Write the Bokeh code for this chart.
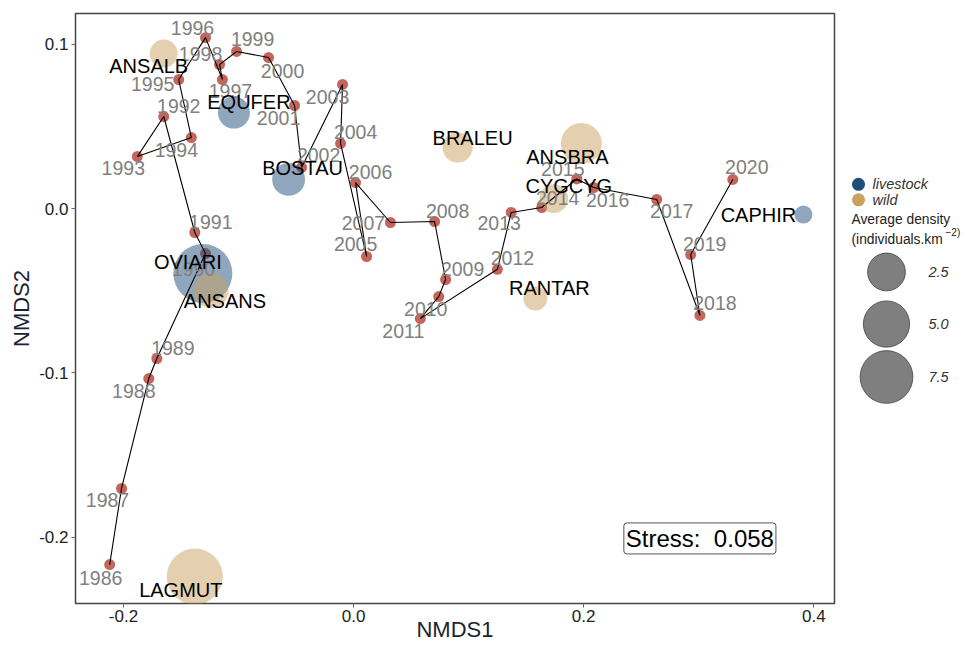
import math
from bokeh.plotting import figure
from bokeh.models import Range1d, ColumnDataSource, Label, FixedTicker
from bokeh.layouts import row
from bokeh.core.properties import value
from bokeh.embed import file_html
from bokeh.resources import INLINE

# ---------------- data ----------------
years = list(range(1986, 2021))
nmds1 = [-0.212, -0.2017, -0.178, -0.171, -0.1287, -0.138, -0.165, -0.188, -0.141, -0.152,
         -0.1287, -0.114, -0.1165, -0.1017, -0.0739, -0.0513, -0.0452, -0.0096, -0.0113, 0.0113,
         0.0017, 0.032, 0.0704, 0.08, 0.074, 0.058, 0.125, 0.137, 0.1635, 0.194,
         0.2087, 0.2635, 0.301, 0.293, 0.3296]
nmds2 = [-0.2167, -0.1704, -0.1035, -0.0913, -0.0274, -0.0146, 0.056, 0.0316, 0.0432, 0.0785,
         0.104, 0.0785, 0.0876, 0.0956, 0.0919, 0.0627, 0.025, 0.0755, 0.0396, -0.0292,
         0.0158, -0.0085, -0.0079, -0.0432, -0.0536, -0.067, -0.037, -0.0024, 0.0006, 0.018,
         0.0128, 0.0055, -0.0651, -0.028, 0.0177]

species = ["ANSALB", "EQUFER", "BOSTAU", "BRALEU", "ANSBRA", "CYGCYG",
           "CAPHIR", "RANTAR", "OVIARI", "ANSANS", "LAGMUT"]
sp_type = ["wild", "livestock", "livestock", "wild", "wild", "wild",
           "livestock", "wild", "livestock", "wild", "wild"]
sp_nmds1 = [-0.165, -0.104, -0.0565, 0.0904, 0.198, 0.174, 0.391, 0.158, -0.131, -0.124, -0.138]
sp_nmds2 = [0.0943, 0.0584, 0.0177, 0.0371, 0.0396, 0.006, -0.0037, -0.0548, -0.0395, -0.05, -0.224]
sp_density = [0.71, 1.3, 1.45, 0.98, 3.34, 0.8, 0.1, 0.32, 10.4, 1.87, 8.95]

size_breaks = [2.5, 5.0, 7.5]
x_ticks = [-0.2, 0.0, 0.2, 0.4]
y_ticks = [-0.2, -0.1, 0.0, 0.1]
stress = 0.058

# label offsets (screen px, repel-like placement)
year_dx = [-9, -14, -15, 16, -12, 16, 15, -14, -15, -26, -13, 8, -19, 16, 14, -16, 17, -15, 15, -11,
           15, -27, 13, 17, -13, -17, 15, -12, 16, -14, 14, 15, 15, 14, 14]
year_dy = [13, 12, 12, -11, 15, -11, -11, 11, 12, 4, -10, 11, -11, -12, 13, 12, -12, 13, -11, -12,
           -11, 1, -11, -11, 12, 12, -11, 11, -10, -10, 13, 12, -12, -11, -12]
sp_dx = [-15, 15, 14, 15, -14, 15, -45, 14, -15, 14, -14]
sp_dy = [12, -11, -11, -10, 14, -13, 0, -11, -11, 10, 13]

# ---------------- styles ----------------
COL = {"livestock": "#1f4e79", "wild": "#c9a25f"}
RMIN, RMAX = 9.0, 29.5
DMIN, DMAX = min(sp_density), max(sp_density)
FONT = "Liberation Sans"
XR = (-0.2417, 0.418)
YR = (-0.2404, 0.1187)


def radius(d):
    f = max(0.0, (d - DMIN) / (DMAX - DMIN))
    return RMIN + (RMAX - RMIN) * math.sqrt(f)


W_MAIN, W_LEG, H = 842, 120, 646
TOP, BOTTOM = 13, 43

p = figure(width=W_MAIN, height=H, output_backend="svg", toolbar_location=None,
           x_range=Range1d(*XR), y_range=Range1d(*YR),
           min_border_left=75, min_border_right=8, min_border_top=TOP, min_border_bottom=BOTTOM)
p.xgrid.visible = False
p.ygrid.visible = False
p.outline_line_color = "#444444"
p.outline_line_width = 1.5
p.background_fill_color = "white"

for ax, ticks in ((p.xaxis[0], x_ticks), (p.yaxis[0], y_ticks)):
    ax.ticker = FixedTicker(ticks=ticks)
    ax.axis_line_color = None
    ax.major_tick_line_color = "#666666"
    ax.major_tick_in = 0
    ax.major_tick_out = 4
    ax.minor_tick_line_color = None
    ax.major_label_text_font = FONT
    ax.major_label_text_font_size = "17px"
    ax.major_label_text_color = "#222222"
    ax.axis_label_text_font = FONT
    ax.axis_label_text_font_size = "22px"
    ax.axis_label_text_font_style = "normal"
    ax.axis_label_text_color = "#1c2333"
    ax.major_label_standoff = 3
    ax.axis_label_standoff = 2
p.xaxis.axis_label = "NMDS1"
p.xaxis.major_label_standoff = 2
p.xaxis.axis_label_standoff = -8
p.yaxis.axis_label = "NMDS2"
p.yaxis.major_label_overrides = {t: f"{t:.1f}" for t in y_ticks}
p.xaxis.major_label_overrides = {t: f"{t:.1f}" for t in x_ticks}

ysrc = ColumnDataSource(dict(x=nmds1, y=nmds2, lab=[str(y) for y in years],
                             dx=year_dx, dy=year_dy))
ssrc = ColumnDataSource(dict(x=sp_nmds1, y=sp_nmds2, lab=species,
                             col=[COL[t] for t in sp_type],
                             size=[2 * radius(d) for d in sp_density],
                             dx=sp_dx, dy=sp_dy))

# year points
p.scatter("x", "y", source=ysrc, size=11, fill_color="#b84a3e", fill_alpha=0.85,
          line_color=None)
# species circles
p.scatter("x", "y", source=ssrc, size="size", fill_color="col", fill_alpha=0.5,
          line_color=None)
# trajectory
p.line("x", "y", source=ysrc, line_color="black", line_width=1.1)

# labels
p.text("x", "y", text="lab", source=ysrc, x_offset="dx", y_offset="dy",
       text_font=value(FONT), text_font_size="19.5px", text_color="#808080",
       text_align="center", text_baseline="middle")
p.text("x", "y", text="lab", source=ssrc, x_offset="dx", y_offset="dy",
       text_font=value(FONT), text_font_size="20px", text_color="black",
       text_align="center", text_baseline="middle")

p.add_layout(Label(x=0.301, y=-0.2008, text=f"Stress:\u00a0\u00a0{stress:.3f}",
                   text_font=FONT, text_font_size="24px", text_color="black",
                   text_align="center", text_baseline="middle",
                   border_line_color="#555555", border_line_width=1,
                   background_fill_color="white", padding=2, border_radius=3))

# ---------------- legend panel ----------------
lg = figure(width=W_LEG, height=H, output_backend="svg", toolbar_location=None,
            x_range=Range1d(0, W_LEG), y_range=Range1d(H, 0),
            min_border=0, outline_line_color=None)
lg.axis.visible = False
lg.grid.visible = False

types = ["livestock", "wild"]
lg.scatter([16, 16], [187, 204], size=13, fill_color=[COL[t] for t in types],
           line_color=None)
lg.text([30, 30], [187, 204], text=types, text_font=value(FONT), text_font_size="14.5px",
        text_font_style="italic", text_color="#333333", text_baseline="middle")
lg.text([9], [226], text=["Average density"], text_font=value(FONT), text_font_size="13.8px",
        text_color="#222222", text_baseline="middle")
lg.text([9], [247], text=["(individuals.km"], text_font=value(FONT), text_font_size="13.8px",
        text_color="#222222", text_baseline="middle")
lg.text([103], [240], text=["\u22122)"], text_font=value(FONT), text_font_size="10px",
        text_color="#222222", text_baseline="middle")
leg_y = [283, 340, 398]
lg.scatter([44] * 3, leg_y, size=[2 * radius(b) for b in size_breaks],
           fill_color="#7f7f7f", line_color="#444444", line_width=0.8)
lg.text([96] * 3, leg_y, text=[f"{b:.1f}" for b in size_breaks], text_font=value(FONT),
        text_font_size="14.5px", text_font_style="italic", text_color="#333333",
        text_align="center", text_baseline="middle")

layout = row(p, lg, spacing=0)
open("out.html", "w").write(file_html(layout, INLINE))
